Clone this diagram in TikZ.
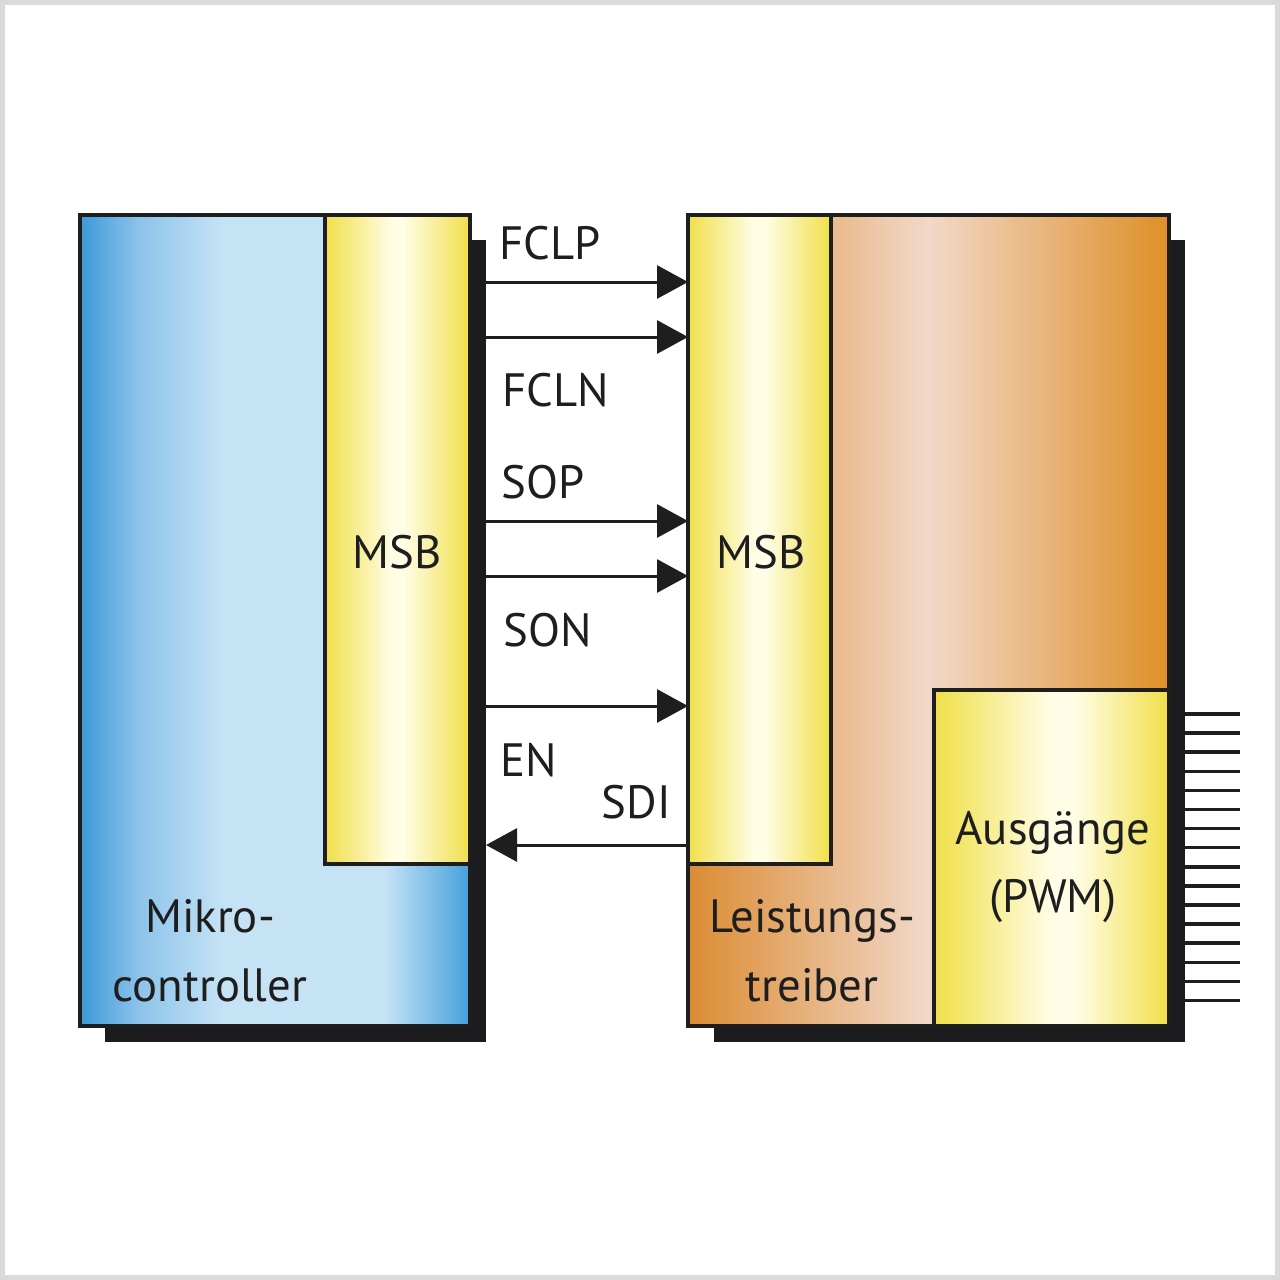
\documentclass[tikz,border=0pt]{standalone}
\usepackage{fontspec}
\setmainfont{PT Sans}
\usetikzlibrary{arrows.meta}
\definecolor{blueD}{HTML}{3B99D9}
\definecolor{blueM}{HTML}{8CC3EA}
\definecolor{blueL}{HTML}{C6E3F5}
\definecolor{blueR}{HTML}{45A0DC}
\definecolor{orangeD}{HTML}{DB8C33}
\definecolor{orangeL}{HTML}{F2D8C9}
\definecolor{orangeR}{HTML}{DE8F28}
\definecolor{yelD}{HTML}{F0DF48}
\definecolor{yelL}{HTML}{FFFDE6}
\definecolor{shad}{HTML}{1C1C1E}
\definecolor{ink}{HTML}{1E1E1E}
\definecolor{frame}{HTML}{DADADA}
\pgfdeclarehorizontalshading{blueshade}{100bp}{color(0bp)=(blueD); color(25bp)=(blueD); color(32.5bp)=(blueM); color(43.5bp)=(blueL); color(64bp)=(blueL); color(75bp)=(blueR); color(100bp)=(blueR)}
\pgfdeclarehorizontalshading{orangeshade}{100bp}{color(0bp)=(orangeD); color(25bp)=(orangeD); color(50bp)=(orangeL); color(75bp)=(orangeR); color(100bp)=(orangeR)}
\pgfdeclarehorizontalshading{yelshade}{100bp}{color(0bp)=(yelD); color(25bp)=(yelD); color(48bp)=(yelL); color(52bp)=(yelL); color(75bp)=(yelD); color(100bp)=(yelD)}
\pgfdeclarehorizontalshading{yelshadeB}{100bp}{color(0bp)=(yelD); color(25bp)=(yelD); color(50bp)=(yelL); color(55bp)=(yelL); color(75bp)=(yelD); color(100bp)=(yelD)}
\tikzset{
  shadowbox/.style={fill=shad, draw=none, inner sep=0pt, outer sep=0pt},
  blockbox/.style={draw=ink, line width=0.4mm, inner sep=0pt, outer sep=0pt},
  sig/.style={draw=ink, line width=0.3mm, -{Triangle[length=3.1mm,width=3.3mm]}},
  pinline/.style={draw=ink, line width=0.35mm},
  lbl/.style={text=ink, inner sep=0pt, font=\fontsize{13.3}{19.6}\selectfont},
  sl/.style={lbl, anchor=west, text depth=0pt},
}
\begin{document}
\begin{tikzpicture}[x=0.1mm,y=-0.1mm]
\useasboundingbox (0,0) rectangle (1280,1280);
\fill[white] (0,0) rectangle (1280,1280);
\draw[frame, line width=0.45mm] (2.5,2.5) rectangle (1277.5,1277.5);
% left block
\node[shadowbox, minimum width=38.1mm, minimum height=80.2mm] (mcsh) at (295.5,641) {};
\node[blockbox, shading=blueshade, minimum width=39mm, minimum height=81.1mm] (mc) at (275,620.5) {};
\node[blockbox, shading=yelshade, minimum width=14.5mm, minimum height=64.9mm] (msbL) at (397.5,539.5) {};
% right block
\node[shadowbox, minimum width=47.1mm, minimum height=80.2mm] (ldsh) at (949.5,641) {};
\node[blockbox, shading=orangeshade, minimum width=48.1mm, minimum height=81.1mm] (ld) at (928.5,620.5) {};
\node[blockbox, shading=yelshade, minimum width=14.3mm, minimum height=64.9mm] (msbR) at (759.5,539.5) {};
\node[blockbox, shading=yelshadeB, minimum width=23.5mm, minimum height=33.6mm] (outb) at (1051.5,858) {};
% texts
\node[lbl] (tmsbL) at (397,552) {MSB};
\node[lbl] (tmsbR) at (761,552) {MSB};
\node[lbl, align=center] (tmc) at (210,951) {Mikro-\\controller};
\node[lbl, align=center] (tld) at (812,951) {Leistungs-\\treiber};
\node[lbl, align=center] (tout) at (1053,867) {Ausgänge\\(PWM)};
% signal coordinates
\coordinate (y1) at (0,282);
\coordinate (y2) at (0,337);
\coordinate (y3) at (0,521);
\coordinate (y4) at (0,576);
\coordinate (y5) at (0,706);
\coordinate (y6) at (0,845);
\draw[sig] (mcsh.east |- y1) -- (msbR.west |- y1);
\draw[sig] (mcsh.east |- y2) -- (msbR.west |- y2);
\draw[sig] (mcsh.east |- y3) -- (msbR.west |- y3);
\draw[sig] (mcsh.east |- y4) -- (msbR.west |- y4);
\draw[sig] (mcsh.east |- y5) -- (msbR.west |- y5);
\draw[sig] (msbR.west |- y6) -- (mcsh.east |- y6);
\node[sl] (lFCLP) at (499,243) {FCLP};
\node[sl] (lFCLN) at (502,390) {FCLN};
\node[sl] (lSOP) at (501,482) {SOP};
\node[sl] (lSON) at (503,630) {SON};
\node[sl] (lEN) at (500,760) {EN};
\node[sl] (lSDI) at (601,802) {SDI};
% output pins
\foreach \i in {0,...,15} {
  \pgfmathsetmacro\yy{714+19.1*\i}
  \coordinate (pe\i) at (1240,\yy);
  \draw[pinline] (ldsh.east |- pe\i) -- (pe\i);
}
\end{tikzpicture}
\end{document}
